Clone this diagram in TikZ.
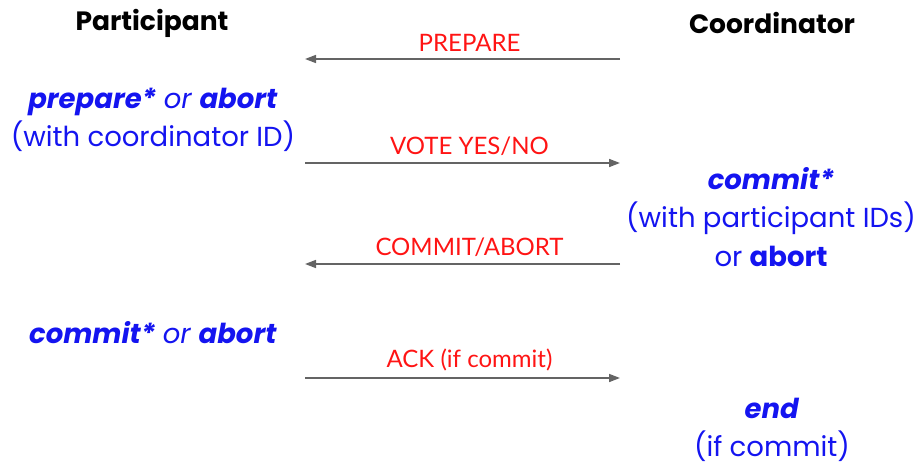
\documentclass[tikz,border=0pt]{standalone}
\usepackage{fontspec}
\setmainfont{Poppins}
\newfontfamily\labelfont{Lato}
\usetikzlibrary{positioning}
\usetikzlibrary{arrows.meta}
\definecolor{msgred}{RGB}{255,20,20}
\definecolor{stateblue}{RGB}{20,20,240}
\definecolor{arrowgray}{RGB}{100,100,100}
\def\st#1{\textbf{\textit{#1}}}

\begin{document}
\begin{tikzpicture}[x=1pt,y=-1pt,>={Triangle[length=11pt,width=8pt]},
	role/.style={font=\bfseries\fontsize{26.5}{30}\selectfont,text=black},
	state/.style={font=\fontsize{27.5}{38.5}\selectfont,text=stateblue,align=center},
	msg/.style={->,draw=arrowgray,line width=1.6pt},
	msglabel/.style={font=\labelfont\fontsize{24}{26}\selectfont,text=msgred,above=3pt,xshift=7pt}]
	\useasboundingbox (0,0) rectangle (915,465);

	\node [role] at (152,23) (part) {Participant};
	\node [role] at (772,23) (coord) {Coordinator};

	% participant states
	\node [state] at (153,120) (pprep) {\st{prepare*} \textit{or} \st{abort}\\(with coordinator ID)};
	\node [state] at (153,333) (pcommit) {\st{commit*} \textit{or} \st{abort}};

	% coordinator states
	\node [state] at (771,217) (ccommit) {\st{commit*}\\(with participant IDs)\\or \textbf{abort}};
	\node [state] at (772,430) (cend) {\st{end}\\(if commit)};

	% message ends
	\coordinate (l1) at (305,59);  \coordinate (r1) at (620,59);
	\coordinate (l2) at (305,163); \coordinate (r2) at (620,163);
	\coordinate (l3) at (305,264); \coordinate (r3) at (620,264);
	\coordinate (l4) at (305,378); \coordinate (r4) at (620,378);

	\draw [msg] (r1) -- node [msglabel] (m1) {PREPARE} (l1);
	\draw [msg] (l2) -- node [msglabel] (m2) {VOTE YES/NO} (r2);
	\draw [msg] (r3) -- node [msglabel] (m3) {COMMIT/ABORT} (l3);
	\draw [msg] (l4) -- node [msglabel] (m4) {ACK (if commit)} (r4);

\end{tikzpicture}
\end{document}
